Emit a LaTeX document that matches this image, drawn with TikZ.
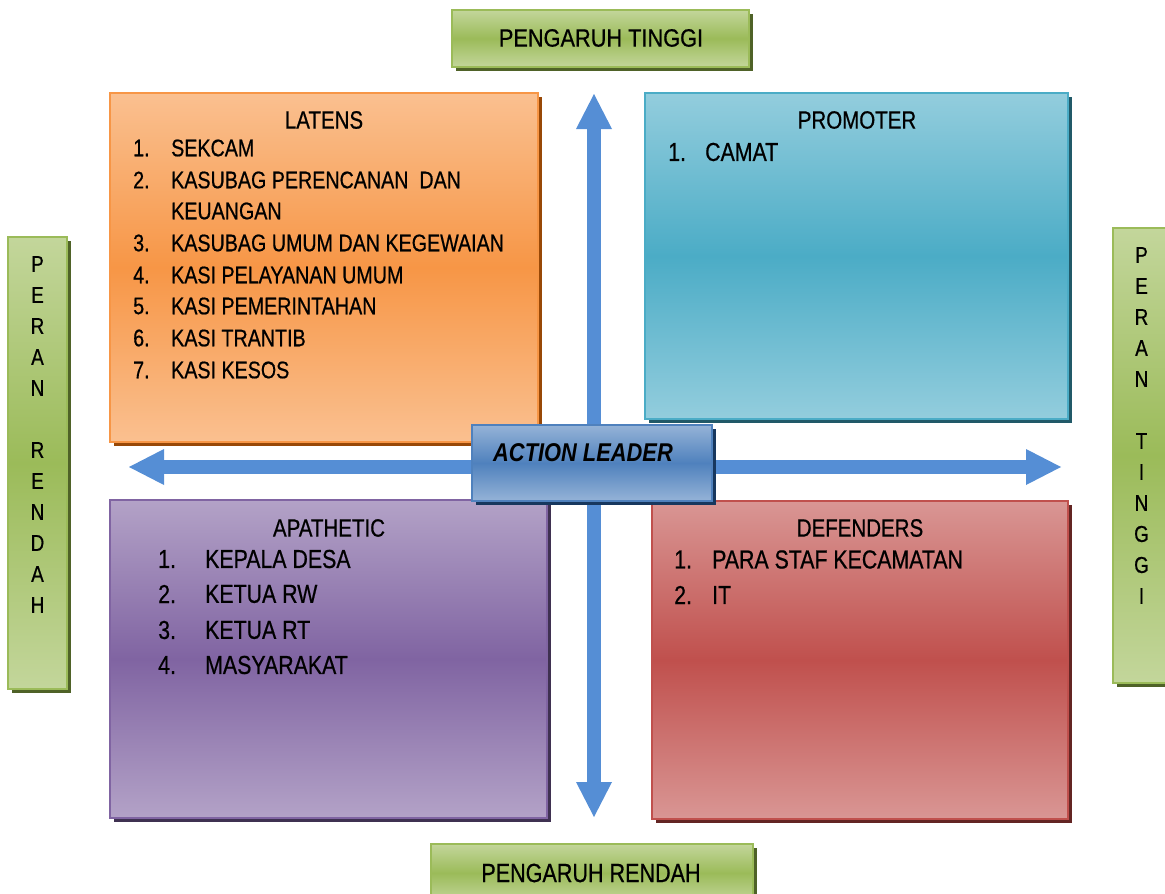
\documentclass[tikz,border=0pt]{standalone}
\usepackage{fontspec}
\setmainfont[FakeStretch=0.82, FakeBold=0.6]{Liberation Sans}
\newfontfamily\greenfont[FakeStretch=0.87, FakeBold=0.6]{Liberation Sans}
\newfontfamily\leaderfont[FakeStretch=0.85]{Liberation Sans}
\usetikzlibrary{arrows.meta,shadows}

\definecolor{orangeL}{HTML}{FAC090}
\definecolor{orangeM}{HTML}{F79646}
\definecolor{orangeS}{HTML}{984807}
\definecolor{tealL}{HTML}{93CDDD}
\definecolor{tealM}{HTML}{4BACC6}
\definecolor{tealS}{HTML}{215968}
\definecolor{purpleL}{HTML}{B3A2C7}
\definecolor{purpleM}{HTML}{8064A2}
\definecolor{purpleS}{HTML}{3F3151}
\definecolor{redL}{HTML}{D99694}
\definecolor{redM}{HTML}{C0504D}
\definecolor{redS}{HTML}{632523}
\definecolor{greenL}{HTML}{C3D69B}
\definecolor{greenM}{HTML}{9BBB59}
\definecolor{greenS}{HTML}{4F6228}
\definecolor{blueL}{HTML}{95B3D7}
\definecolor{blueM}{HTML}{4F81BD}
\definecolor{blueS}{HTML}{17375E}
\definecolor{axisblue}{HTML}{558ED5}

\tikzset{
  colbox/.style n args={4}{draw=#3, line width=2.5pt, inner sep=0pt, outer sep=0pt,
    anchor=north west, top color=#1, bottom color=#1, middle color=#2,
    drop shadow={shadow xshift=4pt, shadow yshift=-4pt, fill=#4, opacity=1}},
  title/.style={inner sep=0pt, font=\fontsize{25}{30}\selectfont},
  item/.style={inner sep=0pt, anchor=west, font=\fontsize{26}{30}\selectfont},
  smallitem/.style={item, font=\fontsize{24}{28}\selectfont},
  sideletter/.style={inner sep=0pt, font=\fontsize{23}{28}\selectfont},
  axis/.style={draw=axisblue, line width=14pt,
    {Triangle[width=36pt 0 0, length=35pt 0 0, line width=0pt 0 0]}-{Triangle[width=36pt 0 0, length=35pt 0 0, line width=0pt 0 0]}}
}

\begin{document}
\begin{tikzpicture}[x=1pt, y=-1pt]
\useasboundingbox (0,0) rectangle (1165,894);

\node[colbox={greenL}{greenM}{greenM}{greenS}, minimum width=297pt, minimum height=57pt] (hightop) at (452,10) {};
\node[colbox={greenL}{greenM}{greenM}{greenS}, minimum width=322pt, minimum height=58pt] (lowbottom) at (431,844) {};
\node[colbox={greenL}{greenM}{greenM}{greenS}, minimum width=59pt, minimum height=452pt] (lowleft) at (8,237) {};
\node[colbox={greenL}{greenM}{greenM}{greenS}, minimum width=58pt, minimum height=455pt] (highright) at (1113,228) {};

\node[inner sep=0pt, font=\greenfont\fontsize{25}{30}\selectfont] (hightopT) at (601,38) {PENGARUH TINGGI};
\node[inner sep=0pt, font=\fontsize{26.3}{30}\selectfont] (lowbottomT) at (591,873) {PENGARUH RENDAH};
\foreach \c/\y [count=\i] in {P/264, E/295, R/326, A/357, N/388, R/450, E/481, N/512, D/543, A/574, H/605}
  \node[sideletter] (lowleft\i) at (37.5,\y) {\c};
\foreach \c/\y [count=\i] in {P/255, E/286, R/317, A/348, N/379, T/441, I/472, N/503, G/534, G/565, I/596}
  \node[sideletter] (highright\i) at (1141.5,\y) {\c};

\coordinate (vtop) at (594,94);
\coordinate (vbot) at (594,817);
\coordinate (hleft) at (129,467);
\coordinate (hright) at (1061,467);
\draw[axis] (vtop) -- (vbot);
\draw[axis] (hleft) -- (hright);

\node[colbox={orangeL}{orangeM}{orangeM}{orangeS}, minimum width=428pt, minimum height=349pt] (latens) at (110,93) {};
\node[colbox={tealL}{tealM}{tealM}{tealS}, minimum width=423pt, minimum height=326pt] (promoter) at (645,93) {};
\node[colbox={purpleL}{purpleM}{purpleM}{purpleS}, minimum width=437pt, minimum height=318pt] (apathetic) at (110,500) {};
\node[colbox={redL}{redM}{redM}{redS}, minimum width=416pt, minimum height=318pt] (defenders) at (652,501) {};

\node[title] (latensT) at (324,120) {LATENS};
\foreach \n/\y in {1/148, 2/180, 3/243, 4/275, 5/306, 6/338, 7/370}
  \node[smallitem] (latensN\n) at (133,\y) {\n.};
\foreach \t/\y [count=\i] in {SEKCAM/148, KASUBAG PERENCANAN\ \ DAN/180, KEUANGAN/211,
    KASUBAG UMUM DAN KEGEWAIAN/243, KASI PELAYANAN UMUM/275, KASI PEMERINTAHAN/306,
    KASI TRANTIB/338, KASI KESOS/370}
  \node[smallitem] (latens\i) at (171,\y) {\t};

\node[title] (promoterT) at (857,120) {PROMOTER};
\node[item] (promoterN1) at (668,152) {1.};
\node[item] (promoter1) at (705,152) {CAMAT};

\node[title] (apatheticT) at (329,528) {APATHETIC};
\foreach \t/\y [count=\i] in {KEPALA DESA/559, KETUA RW/594, KETUA RT/630, MASYARAKAT/665} {
  \node[item] (apatheticN\i) at (158,\y) {\i.};
  \node[item] (apathetic\i) at (205,\y) {\t};
}

\node[title] (defendersT) at (860,528) {DEFENDERS};
\foreach \t/\y [count=\i] in {PARA STAF KECAMATAN/559.5, IT/595} {
  \node[item] (defendersN\i) at (674,\y) {\i.};
  \node[item] (defenders\i) at (712,\y) {\t};
}

\node[colbox={blueL}{blueM}{blueM}{blueS}, minimum width=240pt, minimum height=76pt] (leader) at (472,425) {};
\node[inner sep=0pt, anchor=west, font=\leaderfont\bfseries\itshape\fontsize{25.7}{30}\selectfont] (leaderT) at (493,452.5) {ACTION LEADER};
\end{tikzpicture}
\end{document}
